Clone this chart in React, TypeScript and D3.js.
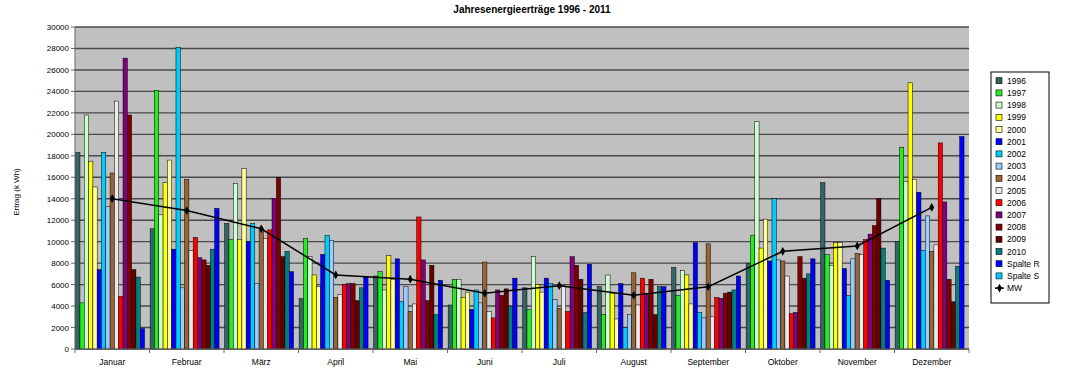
import React from 'react';
import * as d3 from 'd3';

const months = ['Januar', 'Februar', 'März', 'April', 'Mai', 'Juni', 'Juli', 'August', 'September', 'Oktober', 'November', 'Dezember'];
const seriesNames = ['1996', '1997', '1998', '1999', '2000', '2001', '2002', '2003', '2004', '2005', '2006', '2007', '2008', '2009', '2010', 'Spalte R', 'Spalte S'];
const seriesColors = ['#336666', '#22EE22', '#CCFFCC', '#FFFF00', '#FFFF99', '#0000FF', '#00CCFF', '#99CCFF', '#996633', '#EAEAEA', '#FF0000', '#800080', '#800000', '#660000', '#008080', '#0000FF', '#00CCFF'];

const v1996 = [18300, 11200, 11700, 4700, 6800, 4100, 5700, 5800, 7600, 8000, 15500, 10000];
const v1997 = [4300, 24100, 10200, 10300, 7200, 6500, 3700, 3200, 5000, 10600, 8800, 18800];
const v1998 = [21800, 12500, 15400, 8600, 5500, 6500, 8600, 6900, 7300, 21200, 7800, 15600];
const v1999 = [17500, 15500, 10200, 6900, 8700, 4800, 6000, 5200, 6900, 9400, 9900, 24800];
const v2000 = [15100, 17600, 16800, 5800, 6500, 5300, 5300, 2800, 4200, 12100, 9900, 15800];
const v2001 = [7400, 9300, 10000, 8800, 8400, 3700, 6600, 6100, 9900, 8200, 7500, 14600];
const v2002 = [18300, 28100, 11700, 10600, 4400, 5500, 6100, 2000, 3400, 14000, 5000, 9200];
const v2003 = [13300, 5700, 6100, 10100, 5800, 4300, 4600, 3200, 2900, 8300, 8400, 12400];
const v2004 = [16400, 15800, 11200, 4800, 3500, 8100, 3800, 7100, 9800, 8200, 8900, 9100];
const v2005 = [23100, 9200, 10300, 5100, 4200, 3500, 5900, 4100, 3000, 6800, 8800, 9700];
const v2006 = [4900, 10400, 11100, 6000, 12300, 2900, 3500, 6600, 4800, 3300, 10200, 19200];
const v2007 = [27100, 8500, 14000, 6100, 8300, 5500, 8600, 5200, 4700, 3400, 10700, 13700];
const v2008 = [21800, 8300, 16000, 6100, 4500, 5000, 7800, 6500, 5200, 8600, 11500, 6500];
const v2009 = [7400, 7800, 8600, 4500, 7800, 5600, 6500, 3200, 5300, 6600, 14000, 4400];
const v2010 = [6700, 9300, 9100, 5700, 3200, 4000, 3400, 5800, 5500, 7000, 9400, 7700];
const spalteR = [1900, 13100, 7200, 6700, 6400, 6600, 7900, 5800, 6800, 8400, 6400, 19800];
const spalteS: (number | null)[] = [null, null, null, null, null, null, null, null, null, null, null, null];
const mw = [14000, 12900, 11200, 6900, 6500, 5200, 5900, 5000, 5800, 9100, 9600, 13200];

const yTicks = [0, 2000, 4000, 6000, 8000, 10000, 12000, 14000, 16000, 18000, 20000, 22000, 24000, 26000, 28000, 30000];

const seriesValues = [v1996, v1997, v1998, v1999, v2000, v2001, v2002, v2003, v2004, v2005, v2006, v2007, v2008, v2009, v2010, spalteR, spalteS];

const FONT = '"Liberation Sans", Arial, sans-serif';

export default function App() {
  const W = 1065, H = 374;
  const left = 75, right = 969, top = 27, bottom = 349;
  const x0 = d3.scaleBand<string>().domain(months).range([left, right]).paddingInner(0).paddingOuter(0);
  const x1 = d3.scaleBand<string>().domain(seriesNames).range([0, x0.bandwidth()]).paddingInner(0).paddingOuter(0.15);
  const y = d3.scaleLinear().domain([0, 30000]).range([bottom, top]);

  const line = d3.line<number>()
    .x((_, i) => (x0(months[i]) as number) + x0.bandwidth() / 2)
    .y((d) => y(d));

  const diamond = d3.symbol().type(d3.symbolDiamond).size(22)();

  const legendItems = [...seriesNames, 'MW'];
  const legX = 991, legY = 72, legW = 58, legH = 231;
  const legStep = 12.2;

  const boundaries = months.map((m) => x0(m) as number).concat([right]);

  return (
    <div style={{ position: 'absolute', left: 0, top: 0 }}>
      <svg width={W} height={H} style={{ display: 'block', background: '#fff' }}>
        <text x={532} y={13} textAnchor="middle" fontFamily={FONT} fontSize={10} fontWeight="bold">Jahresenergieerträge 1996 - 2011</text>
        {/* plot background */}
        <rect x={left} y={top} width={right - left} height={bottom - top} fill="#C0C0C0" />
        {/* gridlines */}
        {yTicks.map((t) => (
          <line key={t} x1={left} x2={right} y1={y(t)} y2={y(t)} stroke="#4a4a4a" strokeWidth={1.4} />
        ))}
        {/* bars */}
        {seriesValues.map((vals, si) => (
          <g key={seriesNames[si]}>
            {vals.map((v, mi) =>
              v == null ? null : (
                <rect
                  key={mi}
                  x={(x0(months[mi]) as number) + (x1(seriesNames[si]) as number)}
                  y={y(v)}
                  width={x1.bandwidth()}
                  height={y(0) - y(v)}
                  fill={seriesColors[si]}
                  stroke="#000"
                  strokeWidth={0.5}
                />
              )
            )}
          </g>
        ))}
        {/* MW line */}
        <path d={line(mw) || ''} fill="none" stroke="#000" strokeWidth={1.5} />
        {mw.map((v, i) => (
          <path key={i} d={diamond || ''} transform={`translate(${(x0(months[i]) as number) + x0.bandwidth() / 2},${y(v)})`} fill="#000" />
        ))}
        {/* axes */}
        <line x1={left} x2={left} y1={top} y2={bottom} stroke="#666" strokeWidth={1} />
        <line x1={left} x2={right} y1={bottom} y2={bottom} stroke="#666" strokeWidth={1} />
        {yTicks.map((t) => (
          <g key={'yt' + t}>
            <line x1={left - 4} x2={left} y1={y(t)} y2={y(t)} stroke="#666" />
            <text x={left - 6} y={y(t) + 3} textAnchor="end" fontFamily={FONT} fontSize={8} fill="#000">{t}</text>
          </g>
        ))}
        {boundaries.map((b, i) => (
          <line key={'xt' + i} x1={b} x2={b} y1={bottom} y2={bottom + 4} stroke="#666" />
        ))}
        {months.map((m) => (
          <text key={m} x={(x0(m) as number) + x0.bandwidth() / 2} y={365} textAnchor="middle" fontFamily={FONT} fontSize={8.5} fill="#000">{m}</text>
        ))}
        <text transform="translate(19,192) rotate(-90)" textAnchor="middle" fontFamily={FONT} fontSize={8} fill="#000">Ertrag (k Wh)</text>
        {/* legend */}
        <rect x={legX} y={legY} width={legW} height={legH} fill="#fff" stroke="#000" strokeWidth={1} />
        {legendItems.map((name, i) => {
          const cy = legY + 8.7 + i * legStep;
          return (
            <g key={'lg' + name}>
              {name === 'MW' ? (
                <g>
                  <line x1={995} x2={1004} y1={cy} y2={cy} stroke="#000" strokeWidth={1.5} />
                  <path d={diamond || ''} transform={`translate(${999.5},${cy})`} fill="#000" />
                </g>
              ) : (
                <rect x={996} y={cy - 3} width={6} height={6} fill={seriesColors[i]} stroke="#000" strokeWidth={0.6} />
              )}
              <text x={1007} y={cy + 3} fontFamily={FONT} fontSize={8.5} fill="#000">{name}</text>
            </g>
          );
        })}
      </svg>
    </div>
  );
}
